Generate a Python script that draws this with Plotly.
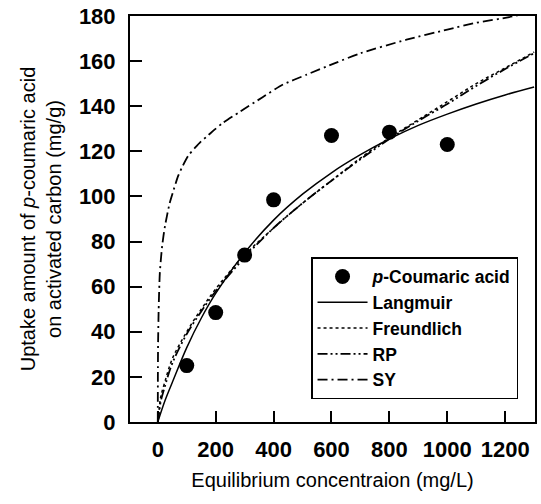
import plotly.graph_objects as go

# Experimental data
exp_c = [100, 200, 300, 400, 600, 800, 1000]
exp_q = [25, 48.5, 74, 98.5, 127, 128.5, 123]

# Model curves
lang_c = [0, 25, 50, 100, 150, 200, 300, 400, 500, 600, 700, 800, 900, 1000, 1100, 1200, 1300]
lang_q = [0, 9.5, 17.5, 33, 46, 57, 75, 89.5, 101, 110.5, 118.5, 125.5, 131.5, 136.5, 141, 145, 148.5]

freu_c = [0, 5, 10, 25, 50, 100, 150, 200, 300, 400, 500, 600, 700, 800, 900, 1000, 1100, 1200, 1300]
freu_q = [0, 6, 11, 18, 28, 40, 50, 59, 74, 86, 97, 107, 117, 126, 134, 142, 150, 157, 164]

rp_c = [0, 5, 10, 25, 50, 100, 150, 200, 300, 400, 500, 600, 700, 800, 900, 1000, 1100, 1200, 1300]
rp_q = [0, 4.5, 9, 16, 26, 39, 49, 58, 73, 86, 97, 107, 116.5, 125.5, 133.5, 141, 149, 156.5, 163.5]

sy_c = [0, 0.3, 1, 3, 7, 15, 25, 41, 55, 70, 86, 105, 128, 150, 169, 195, 224, 283, 362, 431, 514, 610, 700, 859, 1000, 1100, 1214, 1300]
sy_q = [0, 20, 35, 50, 66, 78, 87, 97, 103, 109, 113.5, 118, 121.5, 124.5, 126.5, 129.5, 132.5, 137.5, 144, 149.5, 154, 159, 163.5, 169.5, 174, 177, 179.5, 182]

x_ticks = [0, 200, 400, 600, 800, 1000, 1200]
y_ticks = [0, 20, 40, 60, 80, 100, 120, 140, 160, 180]

fig = go.Figure()
fig.add_trace(go.Scatter(x=exp_c, y=exp_q, mode="markers", name="<i>p</i>-Coumaric acid",
                         marker=dict(color="black", size=15, symbol="circle")))
fig.add_trace(go.Scatter(x=lang_c, y=lang_q, mode="lines", name="Langmuir",
                         line=dict(color="black", width=1.5, shape="spline")))
fig.add_trace(go.Scatter(x=freu_c, y=freu_q, mode="lines", name="Freundlich",
                         line=dict(color="black", width=1.5, dash="dot", shape="spline")))
fig.add_trace(go.Scatter(x=rp_c, y=rp_q, mode="lines", name="RP",
                         line=dict(color="black", width=1.8, dash="10px,3px,2px,3px,2px,3px", shape="spline")))
fig.add_trace(go.Scatter(x=sy_c, y=sy_q, mode="lines", name="SY",
                         line=dict(color="black", width=1.8, dash="10px,4px,2px,4px",
                                   shape="spline", smoothing=0.6)))

font_family = "Liberation Sans, Arial, sans-serif"

fig.update_layout(
    width=541, height=504,
    margin=dict(l=130, r=4, t=16, b=82),
    paper_bgcolor="white", plot_bgcolor="white",
    font=dict(family=font_family, color="black"),
    showlegend=True,
    legend=dict(x=0.447, y=0.406, xanchor="left", yanchor="top",
                bordercolor="black", borderwidth=1.5, bgcolor="white",
                font=dict(size=17.5, family=font_family, weight="bold"),
                tracegroupgap=0, itemwidth=50),
    xaxis=dict(range=[-96, 1303], tickmode="array", tickvals=x_ticks,
               ticks="inside", ticklen=11, tickwidth=1.5, tickcolor="black",
               showline=True, linecolor="black", linewidth=2, mirror=True,
               showgrid=False, zeroline=False,
               tickfont=dict(size=22, family=font_family, weight="bold"),
               ticklabelstandoff=7,
               title=dict(text="Equilibrium concentraion (mg/L)", font=dict(size=20), standoff=12)),
    yaxis=dict(range=[0, 180], tickmode="array", tickvals=y_ticks,
               ticks="inside", ticklen=12, tickwidth=1.5, tickcolor="black",
               showline=True, linecolor="black", linewidth=2, mirror=True,
               showgrid=False, zeroline=False,
               tickfont=dict(size=22, family=font_family, weight="bold"),
               ticklabelstandoff=8,
               title=dict(text="Uptake amount of <i>p</i>-coumaric acid<br>on activated carbon (mg/g)",
                          font=dict(size=20), standoff=12)),
)

fig.write_html("out.html")
